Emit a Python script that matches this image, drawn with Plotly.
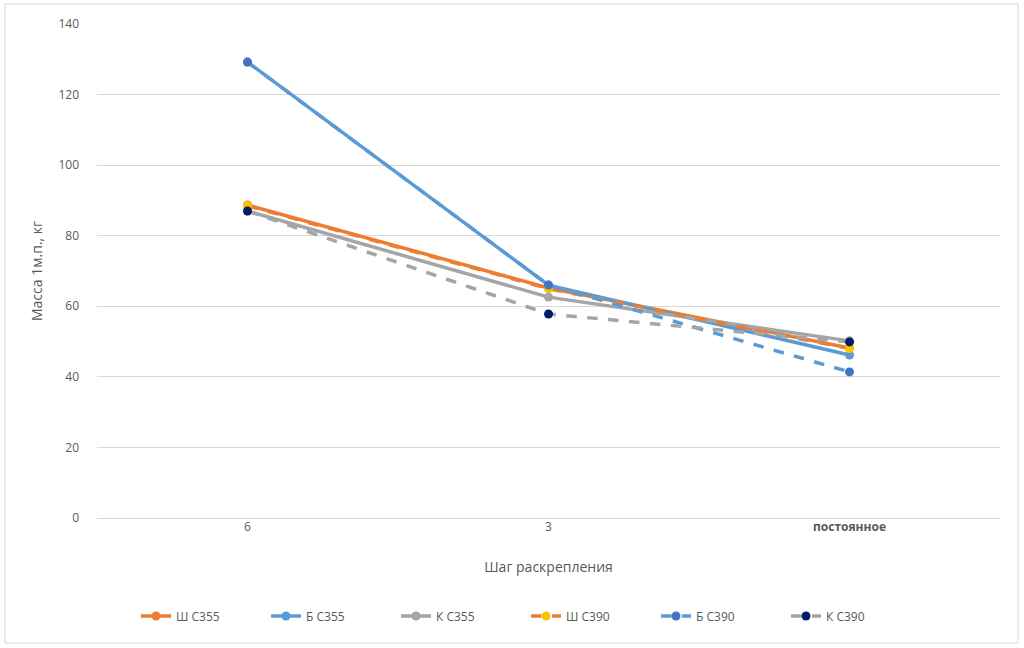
import plotly.graph_objects as go

categories = ["6", "3", "постоянное"]
tick_labels = ["6", "3", "<b>постоянное</b>"]

sh_c355 = [88.7, 65.2, 48.2]
b_c355 = [129.2, 66.0, 46.2]
k_c355 = [87.0, 62.6, 50.2]
sh_c390 = [88.5, 65.0, 48.0]
b_c390 = [129.2, 66.0, 41.4]
k_c390 = [87.0, 57.8, 49.9]

series = [
    ("Ш С355", sh_c355, "#ED7D31", "#ED7D31", "solid"),
    ("Б С355", b_c355, "#5B9BD5", "#5B9BD5", "solid"),
    ("К С355", k_c355, "#A5A5A5", "#A5A5A5", "solid"),
    ("Ш С390", sh_c390, "#ED7D31", "#FFC000", "dash"),
    ("Б С390", b_c390, "#5B9BD5", "#4472C4", "dash"),
    ("К С390", k_c390, "#A5A5A5", "#002060", "dash"),
]

fig = go.Figure()
for name, vals, lc, mc, dash in series:
    fig.add_trace(go.Scatter(
        x=categories, y=vals, name=name, mode="lines+markers",
        line=dict(color=lc, width=3.5, dash=dash),
        marker=dict(color=mc, size=9, line=dict(width=0)),
    ))

W, H = 1024, 648
L, R, T, B = 97, 24, 24, 130
pw, ph = W - L - R, H - T - B

def px(x):
    return (x - L) / pw

def py(y):
    return (H - B - y) / ph

fig.add_shape(type="rect", xref="paper", yref="paper",
              x0=px(5), x1=px(1018), y0=py(643), y1=py(4),
              line=dict(color="#D9D9D9", width=1), fillcolor="rgba(0,0,0,0)", layer="below")

fig.update_layout(
    width=W, height=H,
    margin=dict(l=L, r=R, t=T, b=B),
    paper_bgcolor="white", plot_bgcolor="white",
    font=dict(family="Open Sans, Liberation Sans, sans-serif", size=12, color="#595959"),
    showlegend=True,
    legend=dict(orientation="h", x=px(526), xanchor="center", y=py(616), yanchor="middle",
                font=dict(size=12, color="#595959"), entrywidth=85, entrywidthmode="pixels",
                itemwidth=30, bgcolor="rgba(0,0,0,0)"),
    xaxis=dict(
        type="category", range=[-0.5, 2.5], tickmode="array",
        tickvals=categories, ticktext=tick_labels,
        showgrid=False, zeroline=False, showline=False, ticks="",
        tickfont=dict(size=12, color="#595959"),
        title=dict(text="Шаг раскрепления", font=dict(size=14, color="#595959"), standoff=28),
    ),
    yaxis=dict(
        range=[0, 140], dtick=20, showgrid=True, gridcolor="#D9D9D9", gridwidth=1,
        zeroline=True, zerolinecolor="#D9D9D9", zerolinewidth=1, showline=False, ticks="",
        tickfont=dict(size=12, color="#595959"), ticklabelstandoff=17,
        title=dict(text="Масса 1м.п., кг", font=dict(size=14, color="#595959"), standoff=12),
    ),
)

fig.write_html("out.html")
